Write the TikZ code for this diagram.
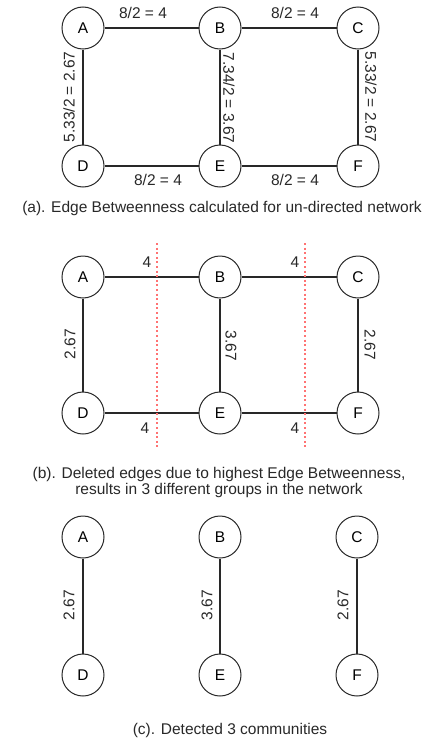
\documentclass[tikz,border=0pt]{standalone}
\usepackage{fontspec}
\setmainfont{Liberation Sans}
\definecolor{cutred}{RGB}{255,115,115}
\definecolor{inkgray}{RGB}{40,40,40}

\begin{document}
\begin{tikzpicture}[x=1pt, y=-1pt,
  vtx/.style={draw=inkgray, circle, line width=1pt, minimum size=42pt, inner sep=0pt, fill=white, font=\fontsize{15.5}{16}\selectfont},
  edge/.style={draw=inkgray, line width=1.2pt},
  wlbl/.style={font=\fontsize{15.5}{18}\selectfont, inner sep=0pt, text=inkgray},
  captxt/.style={font=\fontsize{15.5}{16}\selectfont, align=center, text=inkgray},
  cutline/.style={draw=cutred, line width=1.6pt, dash pattern=on 2pt off 2.6pt}
]
\useasboundingbox (0,0) rectangle (435,744);

% (a) full network with betweenness values
\node[vtx] (a1) at (83,28) {A};
\node[vtx] (b1) at (220,28) {B};
\node[vtx] (c1) at (358,28) {C};
\node[vtx] (d1) at (83,166) {D};
\node[vtx] (e1) at (220,166) {E};
\node[vtx] (f1) at (358,166) {F};
\draw[edge] (a1) -- (b1);
\draw[edge] (b1) -- (c1);
\draw[edge] (d1) -- (e1);
\draw[edge] (e1) -- (f1);
\draw[edge] (a1) -- (d1);
\draw[edge] (b1) -- (e1);
\draw[edge] (c1) -- (f1);
\node[wlbl] (ab1) at (143,13) {8/2 = 4};
\node[wlbl] (bc1) at (295,13) {8/2 = 4};
\node[wlbl] (de1) at (158,180) {8/2 = 4};
\node[wlbl] (ef1) at (295,180) {8/2 = 4};
\node[wlbl, rotate=90] (ad1) at (69,97) {5.33/2 = 2.67};
\node[wlbl, rotate=-90] (be1) at (229,98) {7.34/2 = 3.67};
\node[wlbl, rotate=-90] (cf1) at (371,97) {5.33/2 = 2.67};
\node[captxt] (capa) at (222,208) {(a). Edge Betweenness calculated for un-directed network};

% (b) cuts through the highest edges
\node[vtx] (a2) at (83,277) {A};
\node[vtx] (b2) at (220,277) {B};
\node[vtx] (c2) at (358,277) {C};
\node[vtx] (d2) at (83,413) {D};
\node[vtx] (e2) at (220,413) {E};
\node[vtx] (f2) at (358,413) {F};
\draw[edge] (a2) -- (b2);
\draw[edge] (b2) -- (c2);
\draw[edge] (d2) -- (e2);
\draw[edge] (e2) -- (f2);
\draw[edge] (a2) -- (d2);
\draw[edge] (b2) -- (e2);
\draw[edge] (c2) -- (f2);
\coordinate (cut1t) at (157,243);
\coordinate (cut1b) at (157,447);
\coordinate (cut2t) at (305,243);
\coordinate (cut2b) at (305,447);
\draw[cutline] (cut1t) -- (cut1b);
\draw[cutline] (cut2t) -- (cut2b);
\node[wlbl] (ab2) at (147,262) {4};
\node[wlbl] (bc2) at (295,262) {4};
\node[wlbl] (de2) at (145,428) {4};
\node[wlbl] (ef2) at (295,428) {4};
\node[wlbl, rotate=90] (ad2) at (70,344) {2.67};
\node[wlbl, rotate=-90] (be2) at (231,346) {3.67};
\node[wlbl, rotate=-90] (cf2) at (370,345) {2.67};
\node[captxt] (capb) at (219,482) {(b). Deleted edges due to highest Edge Betweenness,\\results in 3 different groups in the network};

% (c) the three communities
\node[vtx] (a3) at (83,537) {A};
\node[vtx] (b3) at (220,537) {B};
\node[vtx] (c3) at (357,537) {C};
\node[vtx] (d3) at (83,675) {D};
\node[vtx] (e3) at (220,675) {E};
\node[vtx] (f3) at (357,675) {F};
\draw[edge] (a3) -- (d3);
\draw[edge] (b3) -- (e3);
\draw[edge] (c3) -- (f3);
\node[wlbl, rotate=90] (ad3) at (69,605) {2.67};
\node[wlbl, rotate=90] (be3) at (207,605) {3.67};
\node[wlbl, rotate=90] (cf3) at (343,605) {2.67};
\node[captxt] (capc) at (230,730) {(c). Detected 3 communities};
\end{tikzpicture}
\end{document}
